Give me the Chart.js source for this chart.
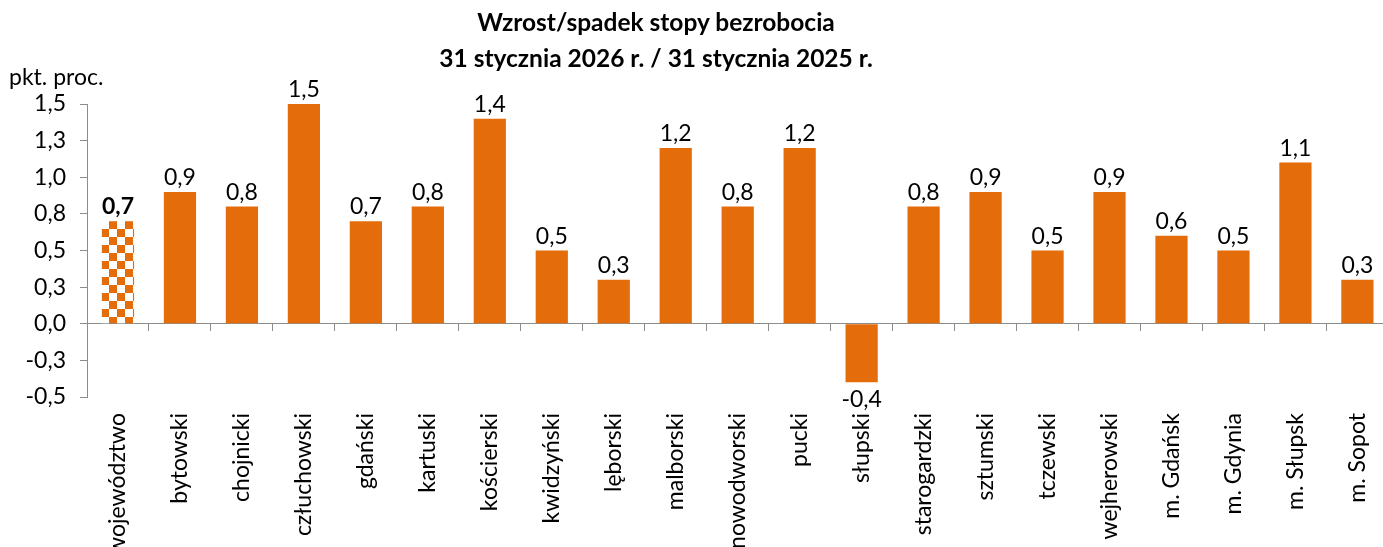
<!DOCTYPE html>
<html>
<head>
<meta charset="utf-8">
<script src="https://cdn.jsdelivr.net/npm/chart.js@4.4.1/dist/chart.umd.min.js"></script>
<style>
  body { margin: 0; overflow: hidden; background: #fff; font-family: Lato, sans-serif; color: #000; }
  #wrap { position: relative; width: 1383px; height: 547px; overflow: hidden; }
  #title { position: absolute; left: 0; top: 4px; width: 1312px; text-align: center; font-weight: bold; font-size: 24.5px; line-height: 36px; }
  #unit { position: absolute; left: 9px; top: 63px; font-size: 23px; line-height: 26px; }
  canvas { position: absolute; left: 0; top: 0; }
</style>
</head>
<body>
<div id="wrap">
  <canvas id="chart" width="1393" height="560"></canvas>
  <div id="title">Wzrost/spadek stopy bezrobocia<br>31 stycznia 2026 r. / 31 stycznia 2025 r.</div>
  <div id="unit">pkt. proc.</div>
</div>
<script>
// data
const categories = [
  "województwo", "bytowski", "chojnicki", "człuchowski", "gdański", "kartuski",
  "kościerski", "kwidzyński", "lęborski", "malborski", "nowodworski", "pucki",
  "słupski", "starogardzki", "sztumski", "tczewski", "wejherowski",
  "m. Gdańsk", "m. Gdynia", "m. Słupsk", "m. Sopot"
];
const changes = [0.7, 0.9, 0.8, 1.5, 0.7, 0.8, 1.4, 0.5, 0.3, 1.2, 0.8, 1.2, -0.4, 0.8, 0.9, 0.5, 0.9, 0.6, 0.5, 1.1, 0.3];
const yMin = -0.5;
const yMax = 1.5;
const yStep = 0.25;

const orange = "#E46C0A";
const axisGrey = "#8C8C8C";
const font = { family: "Lato", size: 23 };

// format numbers polish style: 0,7
function fmt(v) {
  return Number(v).toFixed(1).replace(".", ",");
}

// checkerboard fill for the first bar (województwo)
function checker() {
  const tile = document.createElement("canvas");
  tile.width = 16;
  tile.height = 16;
  const g = tile.getContext("2d");
  g.fillStyle = "#fff";
  g.fillRect(0, 0, 16, 16);
  g.fillStyle = orange;
  g.fillRect(0, 0, 8, 8);
  g.fillRect(8, 8, 8, 8);
  const p = g.createPattern(tile, "repeat");
  p.setTransform(new DOMMatrix().translate(101, 5));
  return p;
}

const barColors = changes.map((v, i) => (i === 0 ? checker() : orange));

const valueLabels = {
  id: "valueLabels",
  afterDatasetsDraw(chart) {
    const ctx = chart.ctx;
    const meta = chart.getDatasetMeta(0);
    ctx.save();
    ctx.fillStyle = "#000";
    ctx.textAlign = "center";
    ctx.textBaseline = "alphabetic";
    meta.data.forEach((bar, i) => {
      const v = changes[i];
      ctx.font = (i === 0 ? "bold " : "") + font.size + "px " + font.family;
      if (v >= 0) {
        ctx.fillText(fmt(v), bar.x, bar.y - 7);
      } else {
        ctx.fillText(fmt(v), bar.x, bar.y + 25);
      }
    });
    ctx.restore();
  }
};

new Chart(document.getElementById("chart"), {
  type: "bar",
  data: {
    labels: categories,
    datasets: [
      {
        data: changes,
        backgroundColor: barColors,
        borderWidth: 0,
        barPercentage: 0.52,
        categoryPercentage: 1,
        xAxisID: "x",
        yAxisID: "y",
      },
    ],
  },
  options: {
    responsive: false,
    animation: false,
    layout: { padding: { top: 104, left: 0, right: 0, bottom: 0 } },
    plugins: {
      legend: { display: false },
      tooltip: { enabled: false },
      title: { display: false },
    },
    scales: {
      x: {
        position: "bottom",
        grid: { display: false },
        border: { display: false },
        ticks: {
          minRotation: 90,
          maxRotation: 90,
          autoSkip: false,
          padding: 8,
          color: "#000",
          font: font,
        },
        afterFit(scale) {
          scale.height = 163;
        },
      },
      x2: {
        axis: "x",
        type: "category",
        position: { y: 0 },
        offset: true,
        grid: {
          offset: true,
          drawOnChartArea: false,
          drawTicks: true,
          tickLength: 7,
          color: axisGrey,
        },
        border: { color: axisGrey, width: 1 },
        ticks: { display: false },
      },
      y: {
        min: yMin,
        max: yMax,
        ticks: {
          stepSize: yStep,
          padding: 14,
          color: "#000",
          font: font,
          callback: (v) => fmt(v),
        },
        grid: {
          drawOnChartArea: false,
          drawTicks: true,
          tickLength: 7,
          color: axisGrey,
        },
        border: { color: axisGrey, width: 1 },
        afterFit(scale) {
          scale.width = 87;
        },
      },
    },
  },
  plugins: [valueLabels],
});
</script>
</body>
</html>
